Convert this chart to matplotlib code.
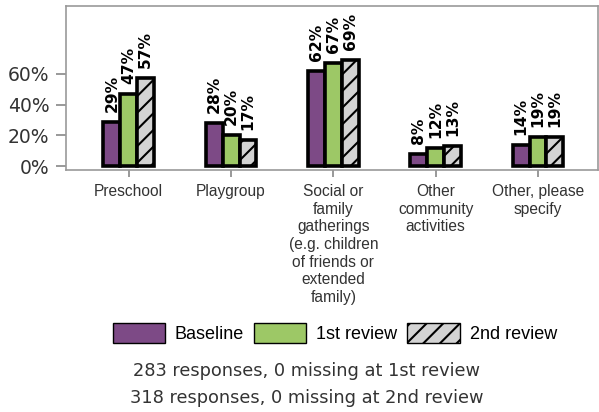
import matplotlib.pyplot as plt
import numpy as np
from matplotlib.patches import Patch

plt.rcParams['hatch.linewidth'] = 1.5

# data
categories = ['Preschool', 'Playgroup',
              'Social or\nfamily\ngatherings\n(e.g. children\nof friends or\nextended\nfamily)',
              'Other\ncommunity\nactivities', 'Other, please\nspecify']
baseline = [29, 28, 62, 8, 14]
review1 = [47, 20, 67, 12, 19]
review2 = [57, 17, 69, 13, 19]
series_names = ['Baseline', '1st review', '2nd review']
yticks = [0, 20, 40, 60]
footnote = '283 responses, 0 missing at 1st review\n318 responses, 0 missing at 2nd review'

fig = plt.figure(figsize=(5.99, 4.12), dpi=100)
ax = fig.add_axes([0.110, 0.587, 0.888, 0.398])

x = np.arange(len(categories))
w = 0.165
colors = ['#7d4a86', '#9dc866', '#d3d3d3']
hatches = [None, None, '//']
for i, (vals, col, h) in enumerate(zip([baseline, review1, review2], colors, hatches)):
    pos = x + (i - 1) * w
    ax.bar(pos, vals, w, color=col, edgecolor='black', linewidth=2.6, hatch=h)
    for p, v in zip(pos, vals):
        ax.text(p, v + 6.5, f'{v}%', rotation=90, ha='center', va='bottom',
                fontsize=11.2, fontweight='bold', family='DejaVu Sans')

ax.set_xlim(-0.615, 4.585)
ax.set_ylim(-2.6, 104)
ax.set_yticks(yticks)
ax.set_yticklabels([f'{t}%' for t in yticks], fontsize=13.5)
ax.set_xticks(x)
ax.set_xticklabels(categories, fontsize=11.2, family='Liberation Sans', linespacing=1.22)
ax.tick_params(axis='both', colors='#888888', width=1.2)
ax.tick_params(axis='x', labelcolor='#333333', length=5, pad=5)
ax.tick_params(axis='y', labelcolor='#333333', length=7, pad=5)
for s in ax.spines.values():
    s.set_color('#999999')
    s.set_linewidth(1.2)

# legend handles with thin outlines
leg_handles = [Patch(facecolor=c, edgecolor='black', linewidth=1.0, hatch=h)
               for c, h in zip(colors, hatches)]
fig.legend(leg_handles, series_names, loc='center', bbox_to_anchor=(0.559, 0.192),
           ncol=3, frameon=False, prop={'family': 'Liberation Sans', 'size': 13},
           handlelength=2.9, handleheight=1.35, handletextpad=0.55, columnspacing=0.55)

fig.text(0.512, 0.066, footnote, ha='center', va='center', fontsize=12.8,
         family='DejaVu Sans', color='#333333', linespacing=1.62)

fig.savefig('out.png', dpi=100)
